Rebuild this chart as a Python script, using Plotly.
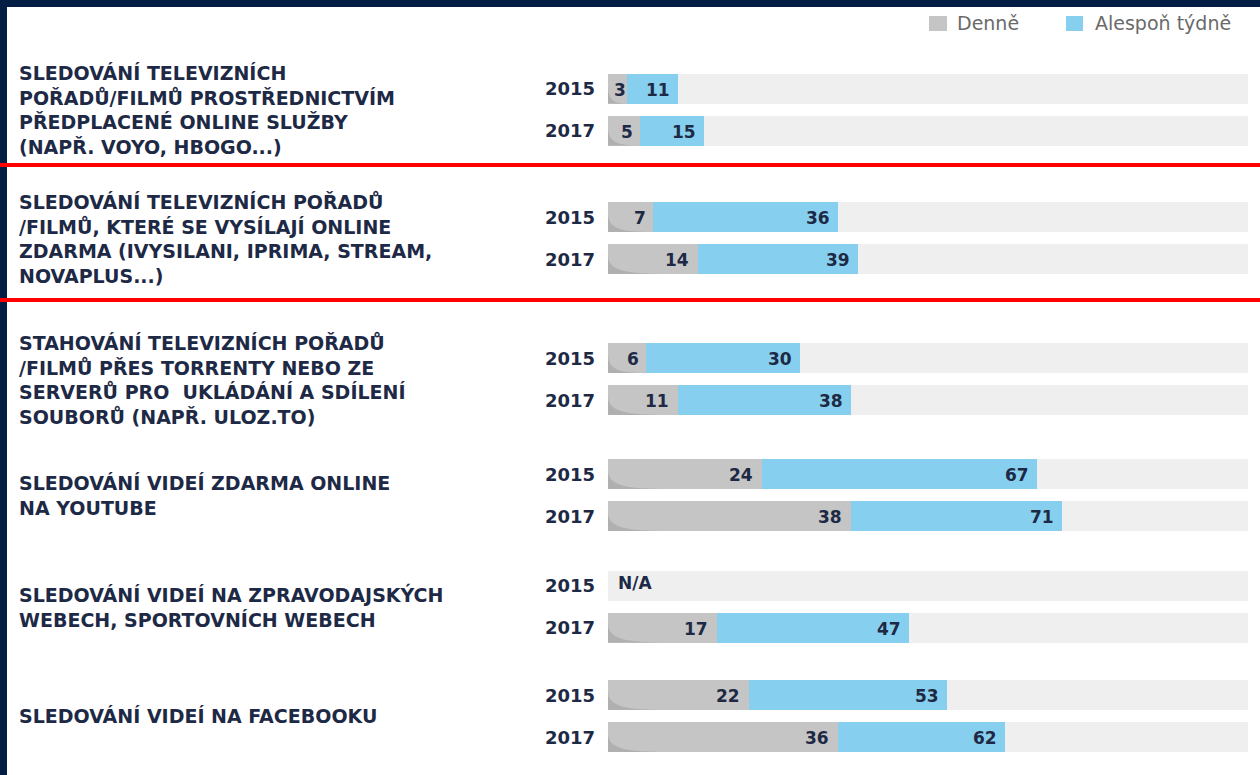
import plotly.graph_objects as go

# --- data -----------------------------------------------------------------
CATEGORIES = [
    "SLEDOVÁNÍ TELEVIZNÍCH<br>POŘADŮ/FILMŮ PROSTŘEDNICTVÍM<br>PŘEDPLACENÉ ONLINE SLUŽBY<br>(NAPŘ. VOYO, HBOGO...)",
    "SLEDOVÁNÍ TELEVIZNÍCH POŘADŮ<br>/FILMŮ, KTERÉ SE VYSÍLAJÍ ONLINE<br>ZDARMA (IVYSILANI, IPRIMA, STREAM,<br>NOVAPLUS...)",
    "STAHOVÁNÍ TELEVIZNÍCH POŘADŮ<br>/FILMŮ PŘES TORRENTY NEBO ZE<br>SERVERŮ PRO  UKLÁDÁNÍ A SDÍLENÍ<br>SOUBORŮ (NAPŘ. ULOZ.TO)",
    "SLEDOVÁNÍ VIDEÍ ZDARMA ONLINE<br>NA YOUTUBE",
    "SLEDOVÁNÍ VIDEÍ NA ZPRAVODAJSKÝCH<br>WEBECH, SPORTOVNÍCH WEBECH",
    "SLEDOVÁNÍ VIDEÍ NA FACEBOOKU",
]
YEARS = ["2015", "2017"]
DAILY_2015 = [3, 7, 6, 24, None, 22]
WEEKLY_2015 = [11, 36, 30, 67, None, 53]
DAILY_2017 = [5, 14, 11, 38, 17, 36]
WEEKLY_2017 = [15, 39, 38, 71, 47, 62]
SERIES_NAMES = ["Denně", "Alespoň týdně"]
NA_TEXT = "N/A"
SCALE_MAX = 100

# --- layout / style ---------------------------------------------------------
W, H = 1260, 775
GROUP_MID = [109.5, 238, 379, 495, 606.5, 716]   # vertical centre of each block (px)
ROW_OFF = 21                                       # 2015 above, 2017 below
BAR_H = 30
RED_LINES = [165, 300]
NAVY = '#031d45'
TXT = '#1d2945'
GREY = '#c5c5c5'
GREY_DK = '#b0b0b0'
BLUE = '#87cfee'
TRACK = '#efefef'
FONT = 'DejaVu Sans'

rows = []   # (y, daily, weekly, year)
for i, mid in enumerate(GROUP_MID):
    rows.append((mid - ROW_OFF, DAILY_2015[i], WEEKLY_2015[i], YEARS[0]))
    rows.append((mid + ROW_OFF, DAILY_2017[i], WEEKLY_2017[i], YEARS[1]))

ys = [r[0] for r in rows]
daily = [r[1] for r in rows]
weekly = [r[2] for r in rows]

fig = go.Figure()
# background track
fig.add_trace(go.Bar(y=ys, x=[SCALE_MAX] * len(ys), orientation='h', width=BAR_H,
                     marker=dict(color=TRACK, line=dict(width=0)),
                     hoverinfo='skip', showlegend=False))
# daily
fig.add_trace(go.Bar(y=ys, x=daily, orientation='h', width=BAR_H, name=SERIES_NAMES[0],
                     marker=dict(color=GREY, line=dict(width=0)), showlegend=False))
# weekly (stacked after the daily part)
fig.add_trace(go.Bar(y=ys, x=[w - d if w is not None else None for d, w in zip(daily, weekly)],
                     base=daily, orientation='h', width=BAR_H, name=SERIES_NAMES[1],
                     marker=dict(color=BLUE, line=dict(width=0)), showlegend=False))

shapes, ann = [], []
lab_font = dict(family=FONT, size=17, color=TXT, weight='bold')
for y, d, w, yr in rows:
    ann.append(dict(x=0, y=y, xref='x', yref='y', text=yr, showarrow=False,
                    xanchor='right', xshift=-11, font=dict(family=FONT, size=18, color=TXT, weight='bold')))
    if d is None:
        ann.append(dict(x=0, y=y - 3, xref='x', yref='y', text=NA_TEXT, showarrow=False,
                        xanchor='left', xshift=8, font=lab_font))
        continue
    # darker swoosh in the lower-left corner of the grey bar
    sw = min(9.5, d)
    yb = y + BAR_H / 2
    shapes.append(dict(type='path', xref='x', yref='y', layer='above', line=dict(width=0),
                       fillcolor=GREY_DK,
                       path=f"M 0,{y - 4} C 0,{yb - 3} {sw * 0.3},{yb} {sw},{yb} L 0,{yb} Z"))
    if d < 4:   # too narrow for right-aligned text: centre it in the segment
        ann.append(dict(x=d / 2, y=y + 1, xref='x', yref='y', text=str(d), showarrow=False,
                        xanchor='center', xshift=2, font=lab_font))
    else:
        ann.append(dict(x=d, y=y + 1, xref='x', yref='y', text=str(d), showarrow=False,
                        xanchor='right', xshift=-5 if d < 10 else -7, font=lab_font))
    ann.append(dict(x=w, y=y + 1, xref='x', yref='y', text=str(w), showarrow=False,
                    xanchor='right', xshift=-6, font=lab_font))

for mid, cat in zip(GROUP_MID, CATEGORIES):
    ann.append(dict(x=17 / W, y=mid, xref='paper', yref='y', text=cat, showarrow=False,
                    xanchor='left', yanchor='middle', align='left',
                    font=dict(family=FONT, size=19, color=TXT, weight='bold')))

# legend drawn by hand (squares + text)
for (x0, x1), tx, name, col in [((929, 947), 955, SERIES_NAMES[0], GREY),
                                ((1066, 1083), 1093, SERIES_NAMES[1], BLUE)]:
    shapes.append(dict(type='rect', xref='paper', yref='y', x0=x0 / W, x1=x1 / W, y0=16, y1=31,
                       fillcolor=col, line=dict(width=0)))
    ann.append(dict(x=tx / W, y=23, xref='paper', yref='y', text=name, showarrow=False,
                    xanchor='left', yanchor='middle',
                    font=dict(family=FONT, size=19, color='#6a6a6a')))

# frame: navy top + left band, red separator lines
shapes.append(dict(type='rect', xref='paper', yref='y', x0=0, x1=1, y0=0, y1=7,
                   fillcolor=NAVY, line=dict(width=0)))
shapes.append(dict(type='rect', xref='paper', yref='y', x0=0, x1=7 / W, y0=0, y1=H,
                   fillcolor=NAVY, line=dict(width=0)))
for ry in RED_LINES:
    shapes.append(dict(type='line', xref='paper', yref='y', x0=0, x1=1, y0=ry, y1=ry,
                       line=dict(color='#ff0000', width=4)))

fig.update_layout(
    width=W, height=H, margin=dict(l=0, r=0, t=0, b=0),
    paper_bgcolor='white', plot_bgcolor='white',
    barmode='overlay', bargap=0,
    xaxis=dict(domain=[608 / W, 1248 / W], range=[0, SCALE_MAX], visible=False, fixedrange=True),
    yaxis=dict(domain=[0, 1], range=[H, 0], visible=False, fixedrange=True),
    shapes=shapes, annotations=ann, font=dict(family=FONT),
)

fig.write_html("out.html", config=dict(displayModeBar=False),
               post_script="document.body.style.margin='0';document.body.style.overflow='hidden';")
